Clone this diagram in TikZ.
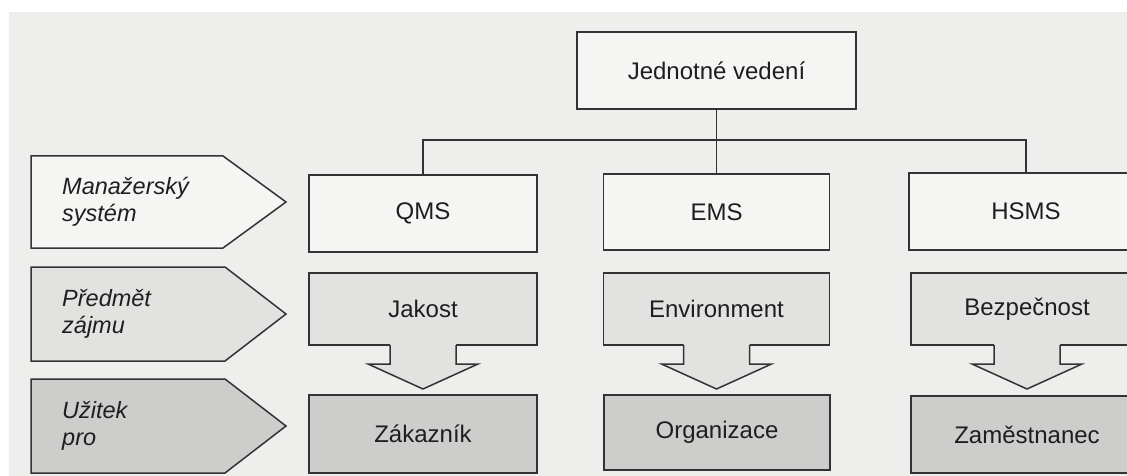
\documentclass[tikz,border=0pt]{standalone}
\usepackage{fontspec}
\setmainfont{Liberation Sans}
\usetikzlibrary{calc}
\definecolor{bgc}{HTML}{EEEEEC}
\definecolor{linec}{HTML}{333333}
\definecolor{fillA}{HTML}{F5F5F3}
\definecolor{fillB}{HTML}{E2E2E0}
\definecolor{fillC}{HTML}{CDCDCB}
\definecolor{txtc}{HTML}{1E1E1E}
\begin{document}
\begin{tikzpicture}[x=1pt,y=-1pt,
  conn/.style={draw=linec, line width=1.5pt},
  box/.style={draw=linec, line width=1.5pt, rectangle, inner sep=0pt, outer sep=0pt,
    text=txtc, font=\fontsize{24}{24}\selectfont},
  tagshape/.style={draw=linec, line width=1.5pt, line join=miter},
  tagtext/.style={anchor=west, align=left, inner sep=0pt, text=txtc,
    font=\itshape\fontsize{23.5}{27}\selectfont}
]
\useasboundingbox (0,0) rectangle (1127,476);
\fill[white] (0,0) rectangle (1127,476);
\fill[bgc] (9,12) rectangle (1127,476);

% left tags
\draw[tagshape, fill=fillA] (31,156) -- (223,156) -- (286,202) -- (223,248) -- (31,248) -- cycle;
\node[tagtext] (t1) at (62,202) {Manažerský\\systém};
\draw[tagshape, fill=fillB] (31,267) -- (225,267) -- (286,314) -- (225,361) -- (31,361) -- cycle;
\node[tagtext] (t2) at (62,314) {Předmět\\zájmu};
\draw[tagshape, fill=fillC] (31,379) -- (225,379) -- (286,426) -- (225,473) -- (31,473) -- cycle;
\node[tagtext] (t3) at (62,426) {Užitek\\pro};

% top
\node[box, fill=fillA, minimum width=279, minimum height=77] (jv) at (716.5,70.5) {Jednotné vedení};

% row 1
\node[box, fill=fillA, minimum width=228, minimum height=77] (qms) at (423,213.5) {QMS};
\node[box, fill=fillA, minimum width=226, minimum height=76] (ems) at (716.5,212) {EMS};
\node[box, fill=fillA, minimum width=234, minimum height=77] (hsms) at (1026,211.5) {HSMS};

% row 2
\node[box, fill=fillB, minimum width=228, minimum height=72] (jak) at (423,309) {Jakost};
\node[box, fill=fillB, minimum width=226, minimum height=72] (env) at (716.5,309) {Environment};
\node[box, fill=fillB, minimum width=232, minimum height=72] (bez) at (1027,309) {Bezpečnost};

% row 3
\node[box, fill=fillC, minimum width=228, minimum height=78] (zak) at (423,434) {Zákazník};
\node[box, fill=fillC, minimum width=226, minimum height=75] (org) at (717,432.5) {Organizace};
\node[box, fill=fillC, minimum width=232, minimum height=77] (zam) at (1027,434.5) {Zaměstnanec};

% down arrows
\foreach \n in {jak,env,bez}{
  \fill[fillB] ($(\n.south)+(-33,-1)$) -- ($(\n.south)+(-33,19)$) -- ($(\n.south)+(-55,19)$)
     -- ($(\n.south)+(0,44)$) -- ($(\n.south)+(55,19)$) -- ($(\n.south)+(33,19)$)
     -- ($(\n.south)+(33,-1)$) -- cycle;
  \draw[conn, line join=miter] ($(\n.south)+(-33,0)$) -- ($(\n.south)+(-33,19)$) -- ($(\n.south)+(-55,19)$)
     -- ($(\n.south)+(0,44)$) -- ($(\n.south)+(55,19)$) -- ($(\n.south)+(33,19)$)
     -- ($(\n.south)+(33,0)$);
}

% connectors
\coordinate (bus) at (716.5,140);
\draw[conn] (jv.south) -- (ems.north);
\draw[conn] (qms.north) |- (bus) -| (hsms.north);
\end{tikzpicture}
\end{document}
